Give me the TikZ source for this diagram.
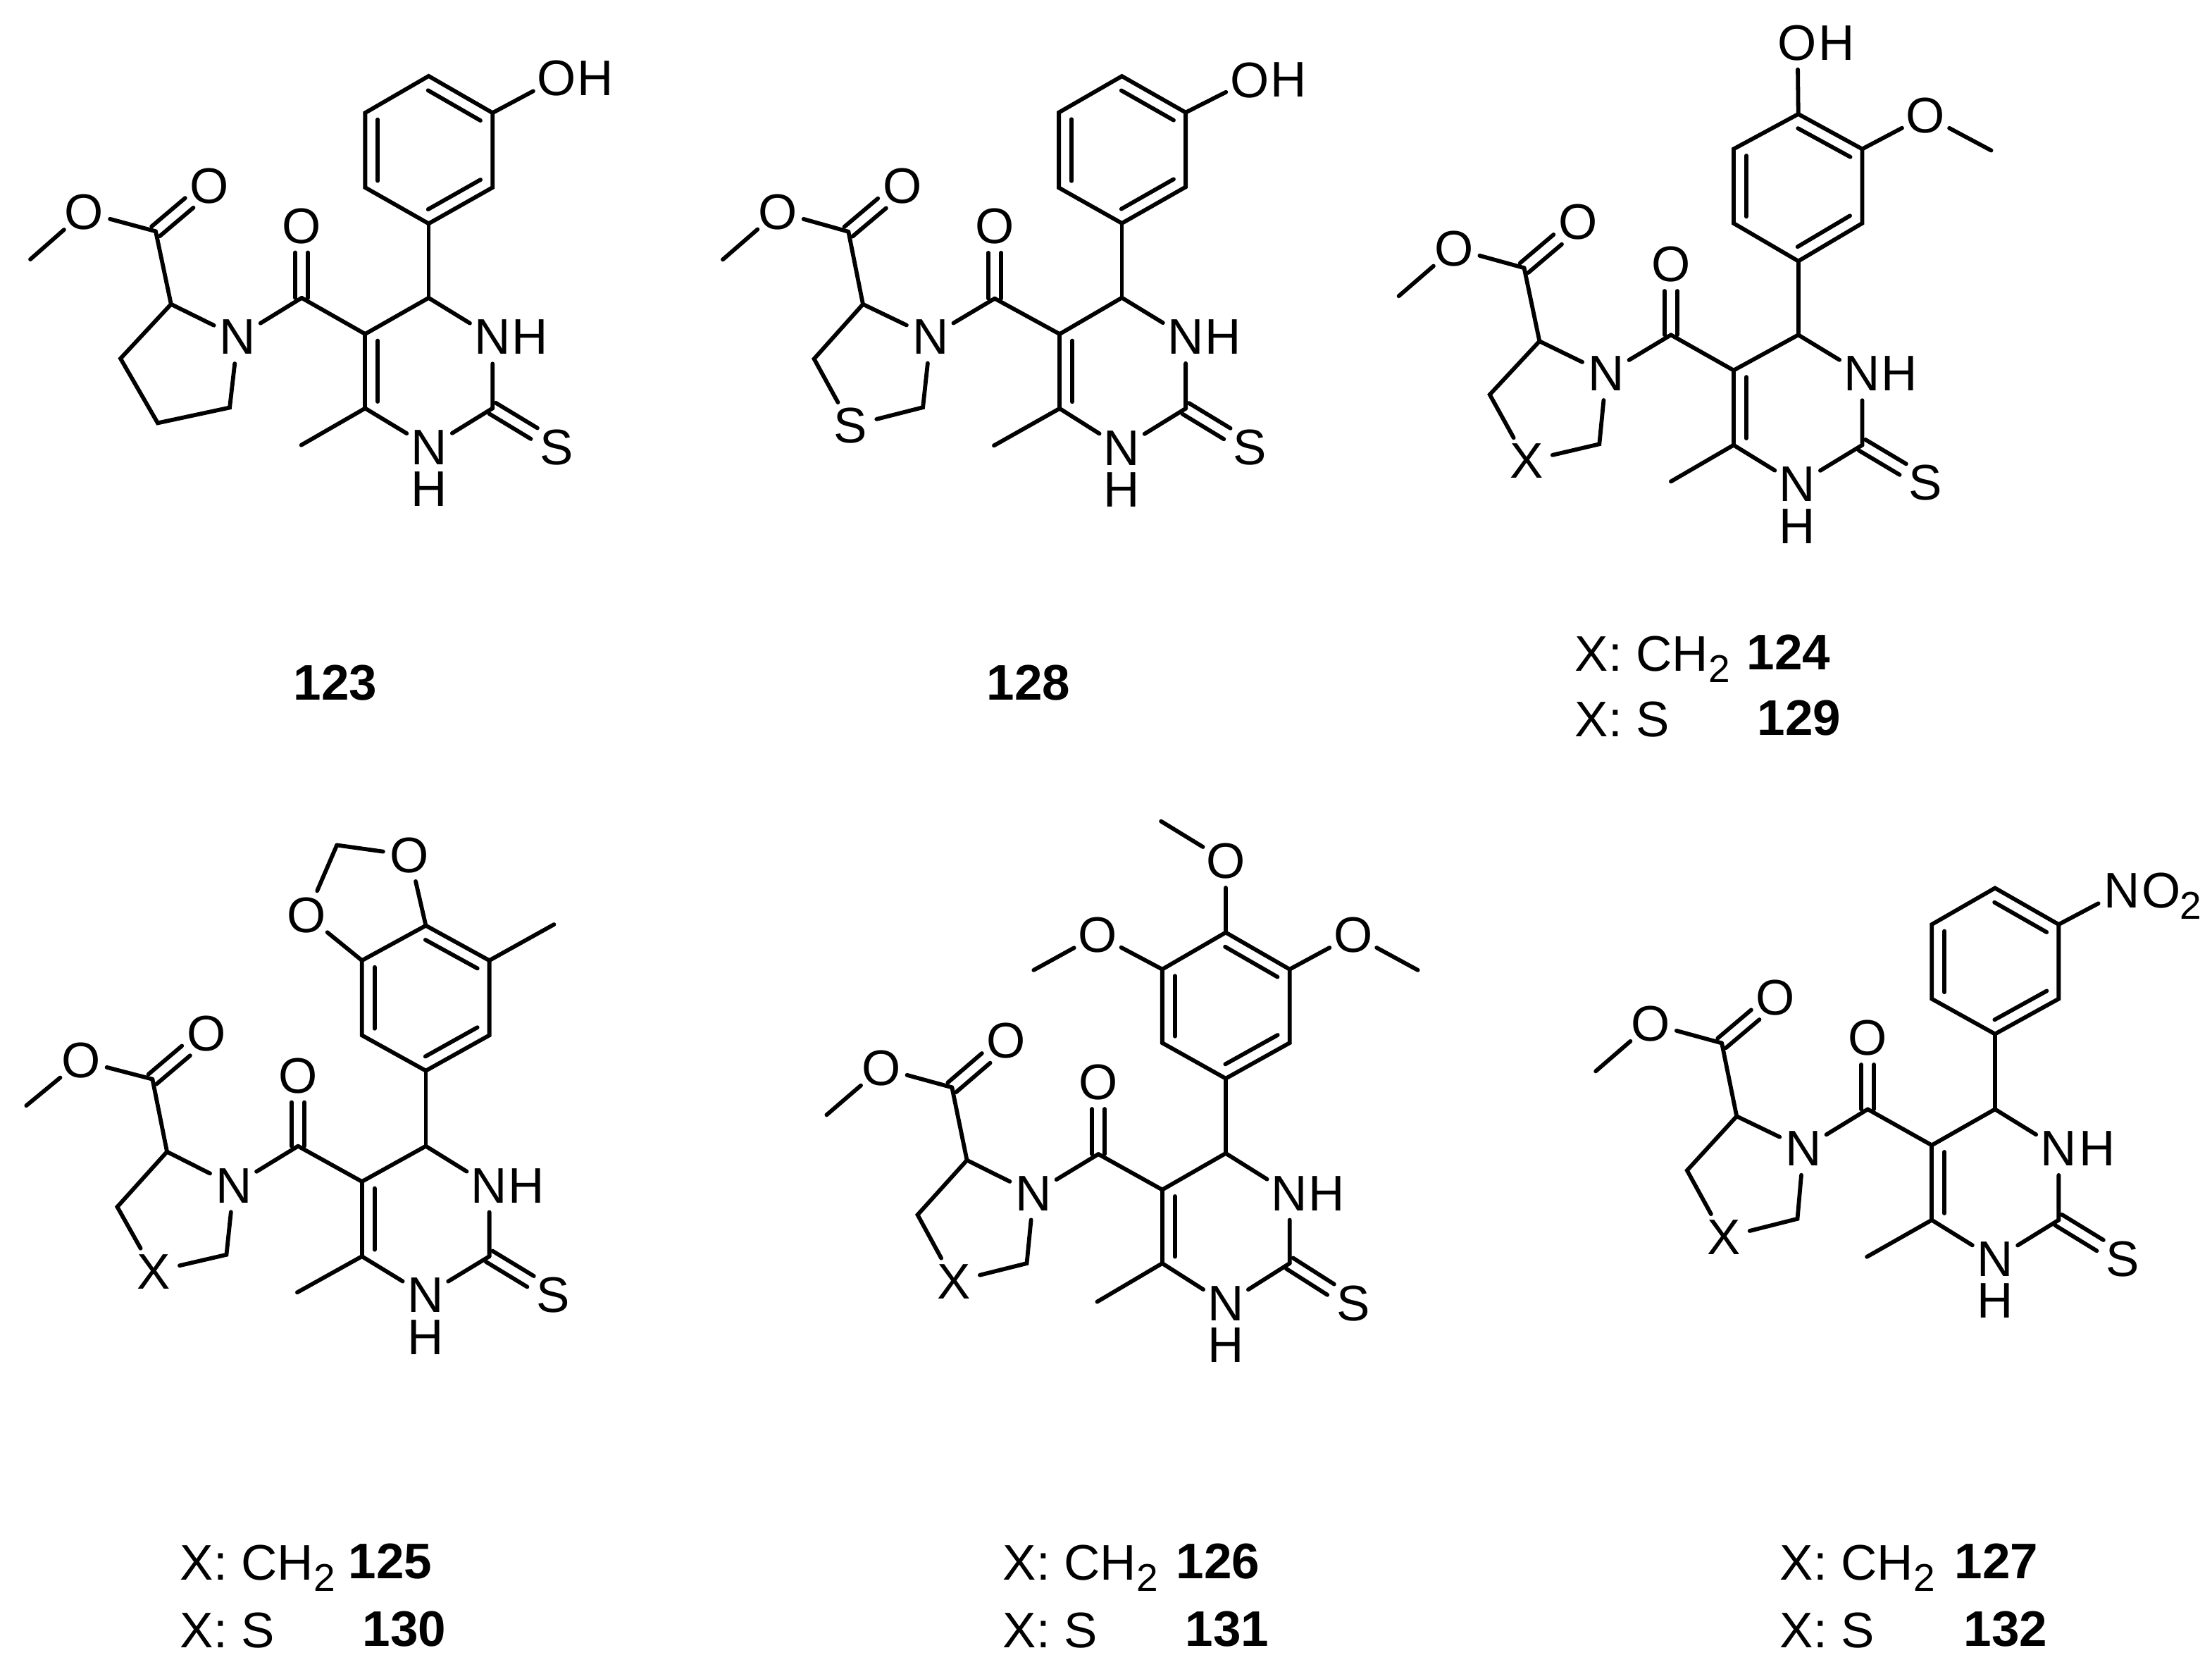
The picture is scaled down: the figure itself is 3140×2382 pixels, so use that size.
\documentclass[tikz,border=0pt]{standalone}
\usepackage{fontspec}
\setmainfont{Liberation Sans}
\usetikzlibrary{calc}
\newcommand{\txtfont}{\fontsize{17.75}{20}\selectfont}
\newcommand{\subtwo}{\raisebox{-4pt}{\fontsize{13.75}{14}\selectfont 2}}
\tikzset{
  bond/.style={line width=1.45pt,line cap=round,line join=miter},
  atomlabel/.style={circle,inner sep=0pt,minimum size=18.5pt,font=\txtfont},
  plainlabel/.style={inner sep=0pt,font=\txtfont},
  caption/.style={inner sep=0pt,anchor=base west,font=\txtfont},
  capnum/.style={inner sep=0pt,anchor=base west,font=\txtfont\bfseries},
}
\newcommand{\cp}[2]{\coordinate (#1) at (#2);}
\newcommand{\lb}[3]{\node[atomlabel] (#1) at (#2) {#3};}
\newcommand{\pl}[3]{\node[plainlabel] (#1) at (#2) {#3};}
% centred double bond from a carbon to a labelled atom
\newcommand{\dd}[2]{%
  \begin{scope}[reset cm]
  \coordinate (e#1#2) at ($(#2)!9.4pt!(#1)$);
  \draw[bond] ($(#1)!2.25pt!90:(#2)$) -- ($(e#1#2)!2.25pt!-90:(#1)$);
  \draw[bond] ($(#1)!2.25pt!-90:(#2)$) -- ($(e#1#2)!2.25pt!90:(#1)$);
  \end{scope}}
% inner ring line, for a clockwise step from #1 to #2
\newcommand{\inn}[2]{%
  \begin{scope}[reset cm]
  \coordinate (p#1#2) at ($(#1)!.09!(#2)$);
  \coordinate (q#1#2) at ($(#2)!.09!(#1)$);
  \draw[bond] ($(p#1#2)!4.5pt!-90:(#2)$) -- ($(q#1#2)!4.5pt!90:(#1)$);
  \end{scope}}
% what all six molecules share
\newcommand{\core}{%
  \draw[bond] (Me0) -- (Oe);
  \draw[bond] (Oe) -- (Cc);
  \draw[bond] (Cc) -- (Ca);
  \dd{Cc}{Od}
  \draw[bond] (Ca) -- (N);
  \draw[bond] (N) -- (Cam);
  \draw[bond] (Cam) -- (C5);
  \dd{Cam}{Oam}
  \draw[bond] (C5) -- (C6);
  \inn{C6}{C5}
  \draw[bond] (C6) -- (Me6);
  \draw[bond] (C6) -- (N1);
  \draw[bond] (N1) -- (C2);
  \draw[bond] (C2) -- (N3);
  \draw[bond] (N3) -- (C4);
  \draw[bond] (C4) -- (C5);
  \dd{C2}{S}
  \draw[bond] (C4) -- (Ar1);
  \draw[bond] (Ar1) -- (Ar2) -- (Ar3) -- (Ar4) -- (Ar5) -- (Ar6) -- cycle;
  \inn{Ar2}{Ar3}
  \inn{Ar4}{Ar5}
  \inn{Ar6}{Ar1}}
\begin{document}
\begin{tikzpicture}[x=0.25pt,y=-0.25pt]
\useasboundingbox (0,0) rectangle (3140,2382);
\fill[white] (0,0) rectangle (3140,2382);

% ---------- 123
\begin{scope}[name prefix=a-,shift={(0,0)},xscale=.574,yscale=.4974]
\cp{Me0}{75,740}\lb{Oe}{208,605}{O}\cp{Cc}{385,660}\lb{Od}{518,530}{O}\cp{Ca}{423,868}
\cp{Cb}{298,1023}\cp{Cg}{390,1207}\cp{Cd}{568,1163}\lb{N}{588,962}{N}
\cp{Cam}{746,850}\lb{Oam}{746,645}{O}\cp{C5}{903,953}\cp{C6}{903,1165}\cp{Me6}{745,1270}
\lb{N1}{1062,1276}{N}\pl{H1}{1062,1396}{H}\cp{C2}{1218,1165}\lb{S}{1377,1276}{S}
\lb{N3}{1218,962}{N}\pl{H3}{1310,962}{H}\cp{C4}{1060,850}
\cp{Ar1}{1060,638}\cp{Ar2}{903,535}\cp{Ar3}{903,322}\cp{Ar4}{1060,217}\cp{Ar5}{1218,322}\cp{Ar6}{1218,535}
\lb{OH}{1377,224}{O}\pl{HO}{1472,224}{H}
\core
\draw[bond] (Ca) -- (Cb) -- (Cg) -- (Cd) -- (N);
\draw[bond] (Ar5) -- (OH);
\end{scope}
\node[capnum,anchor=base] (n123) at (476,993) {123};

% ---------- 128
\begin{scope}[name prefix=b-,shift={(1000,100)},xscale=.5421,yscale=.5421]
\cp{Me0}{48,495}\lb{Oe}{192,370}{O}\cp{Cc}{377,422}\lb{Od}{518,303}{O}\cp{Ca}{415,612}
\cp{Cb}{287,755}\lb{Sr}{383,930}{S}\cp{Cd}{572,882}\lb{N}{592,697}{N}
\cp{Cam}{760,597}\lb{Oam}{760,408}{O}\cp{C5}{930,690}\cp{C6}{930,885}\cp{Me6}{758,982}
\lb{N1}{1093,988}{N}\pl{H1}{1093,1097}{H}\cp{C2}{1260,885}\lb{S}{1428,987}{S}
\lb{N3}{1260,697}{N}\pl{H3}{1358,697}{H}\cp{C4}{1093,595}
\cp{Ar1}{1093,400}\cp{Ar2}{928,307}\cp{Ar3}{928,110}\cp{Ar4}{1093,15}\cp{Ar5}{1260,110}\cp{Ar6}{1260,305}
\lb{OH}{1428,25}{O}\pl{HO}{1530,25}{H}
\core
\draw[bond] (Ca) -- (Cb) -- (Sr);
\draw[bond] (Sr) -- (Cd) -- (N);
\draw[bond] (Ar5) -- (OH);
\end{scope}
\node[capnum,anchor=base] (n128) at (1460,993) {128};

% ---------- 124 / 129
\begin{scope}[name prefix=c-,shift={(1950,0)},xscale=.574,yscale=.6888]
\cp{Me0}{62,610}\lb{Oe}{198,512}{O}\cp{Cc}{372,552}\lb{Od}{505,458}{O}\cp{Ca}{410,703}
\cp{Cb}{287,813}\lb{X}{378,950}{X}\cp{Cd}{558,915}\lb{N}{575,770}{N}
\cp{Cam}{735,690}\lb{Oam}{735,545}{O}\cp{C5}{890,763}\cp{C6}{890,917}\cp{Me6}{735,992}
\lb{N1}{1048,998}{N}\pl{H1}{1048,1085}{H}\cp{C2}{1208,917}\lb{S}{1365,995}{S}
\lb{N3}{1208,770}{N}\pl{H3}{1300,770}{H}\cp{C4}{1050,690}
\cp{Ar1}{1050,538}\cp{Ar2}{890,460}\cp{Ar3}{890,307}\cp{Ar4}{1050,235}\cp{Ar5}{1208,307}\cp{Ar6}{1208,460}
\lb{OH}{1048,88}{O}\pl{HO}{1145,88}{H}\lb{OM}{1365,238}{O}\cp{MeA}{1527,310}
\core
\draw[bond] (Ca) -- (Cb) -- (X);
\draw[bond] (X) -- (Cd) -- (N);
\draw[bond] (Ar4) -- (OH);
\draw[bond] (Ar5) -- (OM);
\draw[bond] (OM) -- (MeA);
\end{scope}
\node[caption] (t124) at (2235,952) {X: CH\subtwo};
\node[capnum] (n124) at (2479,950) {124};
\node[caption] (t129) at (2235,1045) {X: S};
\node[capnum] (n129) at (2494,1043) {129};

% ---------- 125 / 130
\begin{scope}[name prefix=d-,shift={(0,1130)},xscale=.574,yscale=.7985]
\cp{Me0}{65,550}\lb{Oe}{200,470}{O}\cp{Cc}{377,503}\lb{Od}{510,422}{O}\cp{Ca}{413,632}
\cp{Cb}{290,730}\lb{X}{380,845}{X}\cp{Cd}{560,815}\lb{N}{578,692}{N}
\cp{Cam}{737,622}\lb{Oam}{737,497}{O}\cp{C5}{895,685}\cp{C6}{895,818}\cp{Me6}{735,882}
\lb{N1}{1052,887}{N}\pl{H1}{1052,962}{H}\cp{C2}{1210,818}\lb{S}{1368,887}{S}
\lb{N3}{1210,692}{N}\pl{H3}{1302,692}{H}\cp{C4}{1053,622}
\cp{Ar1}{1053,488}\cp{Ar2}{895,425}\cp{Ar3}{895,292}\cp{Ar4}{1053,230}\cp{Ar5}{1210,292}\cp{Ar6}{1210,425}
\cp{MeB}{1370,228}\lb{Oa}{758,212}{O}\lb{Ob}{1013,105}{O}\cp{CH}{833,87}
\core
\draw[bond] (Ca) -- (Cb) -- (X);
\draw[bond] (X) -- (Cd) -- (N);
\draw[bond] (Ar5) -- (MeB);
\draw[bond] (Ar3) -- (Oa);
\draw[bond] (Oa) -- (CH);
\draw[bond] (CH) -- (Ob);
\draw[bond] (Ob) -- (Ar4);
\end{scope}
\node[caption] (t125) at (255,2242) {X: CH\subtwo};
\node[capnum] (n125) at (494,2240) {125};
\node[caption] (t130) at (255,2338) {X: S};
\node[capnum] (n130) at (514,2336) {130};

% ---------- 126 / 131
\begin{scope}[name prefix=e-,shift={(1120,1130)},xscale=.574,yscale=.574]
\cp{Me0}{93,788}\lb{Oe}{228,672}{O}\cp{Cc}{403,720}\lb{Od}{537,605}{O}\cp{Ca}{440,900}
\cp{Cb}{318,1035}\lb{X}{408,1200}{X}\cp{Cd}{588,1155}\lb{N}{605,982}{N}
\cp{Cam}{765,885}\lb{Oam}{765,708}{O}\cp{C5}{923,973}\cp{C6}{923,1155}\cp{Me6}{762,1250}
\lb{N1}{1080,1255}{N}\pl{H1}{1080,1358}{H}\cp{C2}{1238,1155}\lb{S}{1395,1255}{S}
\lb{N3}{1238,982}{N}\pl{H3}{1330,982}{H}\cp{C4}{1080,883}
\cp{Ar1}{1080,698}\cp{Ar2}{923,610}\cp{Ar3}{923,428}\cp{Ar4}{1080,337}\cp{Ar5}{1238,428}\cp{Ar6}{1238,610}
\lb{OT}{1080,160}{O}\cp{MeT}{920,62}\lb{OL}{763,343}{O}\cp{MeL}{605,430}\lb{OR}{1395,343}{O}\cp{MeR}{1555,430}
\core
\draw[bond] (Ca) -- (Cb) -- (X);
\draw[bond] (X) -- (Cd) -- (N);
\draw[bond] (Ar4) -- (OT);
\draw[bond] (OT) -- (MeT);
\draw[bond] (Ar3) -- (OL);
\draw[bond] (OL) -- (MeL);
\draw[bond] (Ar5) -- (OR);
\draw[bond] (OR) -- (MeR);
\end{scope}
\node[caption] (t126) at (1423,2242) {X: CH\subtwo};
\node[capnum] (n126) at (1669,2240) {126};
\node[caption] (t131) at (1423,2338) {X: S};
\node[capnum] (n131) at (1682,2336) {131};

% ---------- 127 / 132
\begin{scope}[name prefix=f-,shift={(2220,1190)},xscale=.5867,yscale=.5867]
\cp{Me0}{77,563}\lb{Oe}{210,448}{O}\cp{Cc}{382,495}\lb{Od}{512,385}{O}\cp{Ca}{418,672}
\cp{Cb}{298,803}\lb{X}{387,965}{X}\cp{Cd}{565,920}\lb{N}{580,750}{N}
\cp{Cam}{735,655}\lb{Oam}{735,483}{O}\cp{C5}{890,742}\cp{C6}{890,923}\cp{Me6}{733,1012}
\lb{N1}{1043,1018}{N}\pl{H1}{1043,1118}{H}\cp{C2}{1197,923}\lb{S}{1352,1018}{S}
\lb{N3}{1197,750}{N}\pl{H3}{1290,750}{H}\cp{C4}{1043,655}
\cp{Ar1}{1043,473}\cp{Ar2}{890,388}\cp{Ar3}{890,208}\cp{Ar4}{1043,120}\cp{Ar5}{1197,208}\cp{Ar6}{1197,388}
\lb{NN}{1350,127}{N}\pl{NO}{1445,127}{O}\node[inner sep=0pt,anchor=base,font=\fontsize{13.75}{14}\selectfont] (N2) at (1517,195) {2};
\core
\draw[bond] (Ca) -- (Cb) -- (X);
\draw[bond] (X) -- (Cd) -- (N);
\draw[bond] (Ar5) -- (NN);
\end{scope}
\node[caption] (t127) at (2526,2242) {X: CH\subtwo};
\node[capnum] (n127) at (2774,2240) {127};
\node[caption] (t132) at (2526,2338) {X: S};
\node[capnum] (n132) at (2787,2336) {132};
\end{tikzpicture}
\end{document}
